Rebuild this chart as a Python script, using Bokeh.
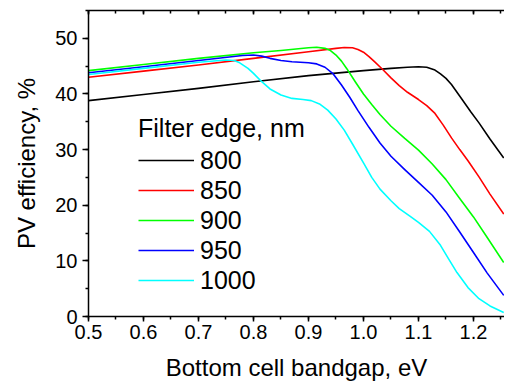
from bokeh.plotting import figure
from bokeh.models import LinearAxis, Legend, LegendItem, Range1d, FixedTicker, CustomJSTickFormatter, PrintfTickFormatter
from bokeh.embed import file_html
from bokeh.resources import INLINE

# Bottom cell bandgap (eV) and PV efficiency (%) for each filter edge (nm)
x800 = [0.50, 0.60, 0.70, 0.80, 0.90, 1.00, 1.05, 1.08, 1.10, 1.115, 1.13, 1.14, 1.15, 1.16, 1.17, 1.18, 1.195, 1.21, 1.23, 1.255]
y800 = [38.8, 39.9, 41.0, 42.2, 43.3, 44.2, 44.6, 44.8, 44.9, 44.8, 44.3, 43.6, 42.8, 41.7, 40.3, 38.9, 36.8, 34.8, 31.9, 28.5]

x850 = [0.50, 0.60, 0.70, 0.80, 0.90, 0.95, 0.965, 0.98, 0.99, 1.00, 1.01, 1.02, 1.035, 1.05, 1.065, 1.08, 1.10, 1.115, 1.13, 1.145, 1.16, 1.175, 1.19, 1.21, 1.23, 1.255]
y850 = [43.0, 44.1, 45.2, 46.4, 47.6, 48.2, 48.35, 48.3, 48.0, 47.5, 46.7, 45.8, 44.4, 42.9, 41.5, 40.3, 39.0, 37.9, 36.5, 34.4, 32.1, 30.0, 28.0, 25.1, 22.0, 18.4]

x900 = [0.50, 0.60, 0.70, 0.80, 0.85, 0.90, 0.915, 0.93, 0.94, 0.95, 0.96, 0.97, 0.985, 1.00, 1.015, 1.03, 1.05, 1.075, 1.10, 1.125, 1.15, 1.175, 1.20, 1.225, 1.255]
y900 = [44.2, 45.3, 46.4, 47.4, 47.8, 48.3, 48.4, 48.2, 47.8, 47.0, 45.9, 44.5, 42.2, 40.0, 38.1, 36.3, 34.2, 32.0, 29.9, 27.4, 24.6, 21.2, 17.9, 14.2, 9.7]

x950 = [0.50, 0.60, 0.70, 0.78, 0.80, 0.815, 0.83, 0.85, 0.87, 0.90, 0.915, 0.93, 0.945, 0.96, 0.975, 0.99, 1.01, 1.03, 1.05, 1.075, 1.10, 1.125, 1.15, 1.175, 1.20, 1.225, 1.255]
y950 = [43.8, 44.9, 46.0, 46.9, 47.0, 46.8, 46.4, 46.0, 45.8, 45.6, 45.4, 44.8, 43.6, 41.6, 39.4, 37.0, 34.0, 31.2, 28.8, 26.4, 24.1, 21.8, 18.8, 15.2, 11.5, 7.8, 3.8]

x1000 = [0.50, 0.60, 0.70, 0.75, 0.765, 0.775, 0.79, 0.80, 0.815, 0.83, 0.85, 0.87, 0.89, 0.905, 0.92, 0.935, 0.95, 0.965, 0.98, 1.00, 1.015, 1.03, 1.05, 1.065, 1.085, 1.10, 1.12, 1.14, 1.155, 1.17, 1.19, 1.21, 1.23, 1.255]
y1000 = [43.5, 44.6, 45.7, 46.1, 46.0, 45.6, 44.6, 43.7, 42.2, 40.9, 39.8, 39.2, 39.0, 38.8, 38.2, 37.1, 35.5, 33.5, 31.0, 27.6, 25.0, 22.9, 20.8, 19.4, 18.0, 16.9, 15.3, 12.8, 10.3, 7.9, 5.2, 3.2, 1.9, 0.7]

labels = ["800", "850", "900", "950", "1000"]
colors = ["#000000", "#FF0000", "#00FF00", "#0000FF", "#00FFFF"]
xticks = [0.5, 0.6, 0.7, 0.8, 0.9, 1.0, 1.1, 1.2]
yticks = [0, 10, 20, 30, 40, 50]

FONT = "Liberation Sans"

p = figure(width=504, height=383, output_backend="svg", toolbar_location=None,
           x_range=Range1d(0.5, 1.2564), y_range=Range1d(0, 55),
           min_border_left=88, min_border_right=0, min_border_top=10, min_border_bottom=66,
           outline_line_color=None, background_fill_color="white", border_fill_color="white")
p.xgrid.visible = False
p.ygrid.visible = False

def style_axis(ax, ticks, minor):
    ax.ticker = FixedTicker(ticks=ticks, minor_ticks=minor)
    ax.axis_line_color = "black"
    ax.axis_line_width = 1.5
    ax.major_tick_line_color = "black"
    ax.minor_tick_line_color = "black"
    ax.major_tick_line_width = 1.5
    ax.minor_tick_line_width = 1.5
    ax.major_label_text_font = FONT
    ax.major_label_text_font_size = "20px"
    ax.major_label_text_color = "black"
    ax.axis_label_text_font = FONT
    ax.axis_label_text_font_size = "24px"
    ax.axis_label_text_font_style = "normal"
    ax.axis_label_text_color = "black"

xminor = [0.5 + 0.05 * i for i in range(16)]
yminor = [5 * i for i in range(12)]

xa = p.xaxis[0]
style_axis(xa, xticks, xminor)
xa.formatter = PrintfTickFormatter(format="%.1f")
xa.axis_label = "Bottom cell bandgap, eV"
xa.major_tick_out = 5
xa.major_tick_in = 0
xa.minor_tick_out = 3
xa.minor_tick_in = 0
xa.major_label_standoff = 3
xa.axis_label_standoff = 12

ya = p.yaxis[0]
style_axis(ya, yticks, yminor)
ya.axis_label = "PV efficiency, %"
ya.major_tick_out = 6
ya.major_tick_in = 0
ya.minor_tick_out = 3
ya.minor_tick_in = 0
ya.major_label_standoff = 5
ya.axis_label_standoff = 12

top = LinearAxis()
style_axis(top, xticks, xminor)
top.major_tick_out = 0
top.major_tick_in = 4
top.minor_tick_out = 0
top.minor_tick_in = 3
top.major_label_standoff = 0
top.formatter = CustomJSTickFormatter(code="return ''")
p.add_layout(top, "above")

xs = [x800, x850, x900, x950, x1000]
ys = [y800, y850, y900, y950, y1000]
items = []
for xv, yv, c, lab in zip(xs, ys, colors, labels):
    r = p.line(xv, yv, line_color=c, line_width=1.6, line_join="round")
    items.append(LegendItem(label=lab, renderers=[r]))

leg = Legend(items=items, title="Filter edge, nm", location=(50, 21),
             title_text_font=FONT, title_text_font_size="25px", title_text_font_style="normal",
             title_text_color="black",
             label_text_font=FONT, label_text_font_size="25px", label_text_color="black",
             glyph_width=56, glyph_height=30, label_height=30, spacing=0,
             padding=0, margin=0, label_standoff=6, title_standoff=2,
             border_line_color=None, background_fill_alpha=0)
p.add_layout(leg)

open("out.html", "w").write(file_html(p, INLINE))
